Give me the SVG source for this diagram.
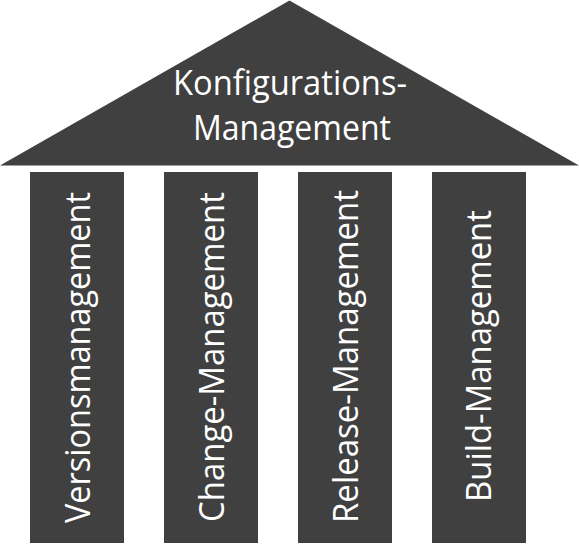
<svg xmlns="http://www.w3.org/2000/svg" width="579" height="549" viewBox="0 0 579 549">
<style>
.shape{fill:#404040;stroke:none}
.lbl{fill:#ffffff;font-family:"Open Sans","Noto Sans","DejaVu Sans",sans-serif;font-size:34px;text-anchor:middle}
</style>
<rect width="579" height="549" fill="#ffffff"/>
<g id="roof">
<polygon class="shape" points="0,165.5 289.5,0.5 579,165.5"/>
<text class="lbl" x="290" y="95" textLength="234" lengthAdjust="spacingAndGlyphs">Konfigurations-</text>
<text class="lbl" x="292" y="140" textLength="198" lengthAdjust="spacingAndGlyphs">Management</text>
</g>
<g id="pillar-version">
<rect class="shape" x="30" y="172" width="94" height="371"/>
<text class="lbl" transform="translate(90,357.5) rotate(-90)" x="0" y="0" textLength="331" lengthAdjust="spacingAndGlyphs">Versionsmanagement</text>
</g>
<g id="pillar-change">
<rect class="shape" x="164" y="172" width="94" height="371"/>
<text class="lbl" transform="translate(224,357) rotate(-90)" x="0" y="0" textLength="330" lengthAdjust="spacingAndGlyphs">Change-Management</text>
</g>
<g id="pillar-release">
<rect class="shape" x="298" y="172" width="94" height="371"/>
<text class="lbl" transform="translate(358,356.5) rotate(-90)" x="0" y="0" textLength="333" lengthAdjust="spacingAndGlyphs">Release-Management</text>
</g>
<g id="pillar-build">
<rect class="shape" x="432" y="172" width="94" height="371"/>
<text class="lbl" transform="translate(491,356) rotate(-90)" x="0" y="0" textLength="292" lengthAdjust="spacingAndGlyphs">Build-Management</text>
</g>
<g id="connectors"></g>
</svg>
